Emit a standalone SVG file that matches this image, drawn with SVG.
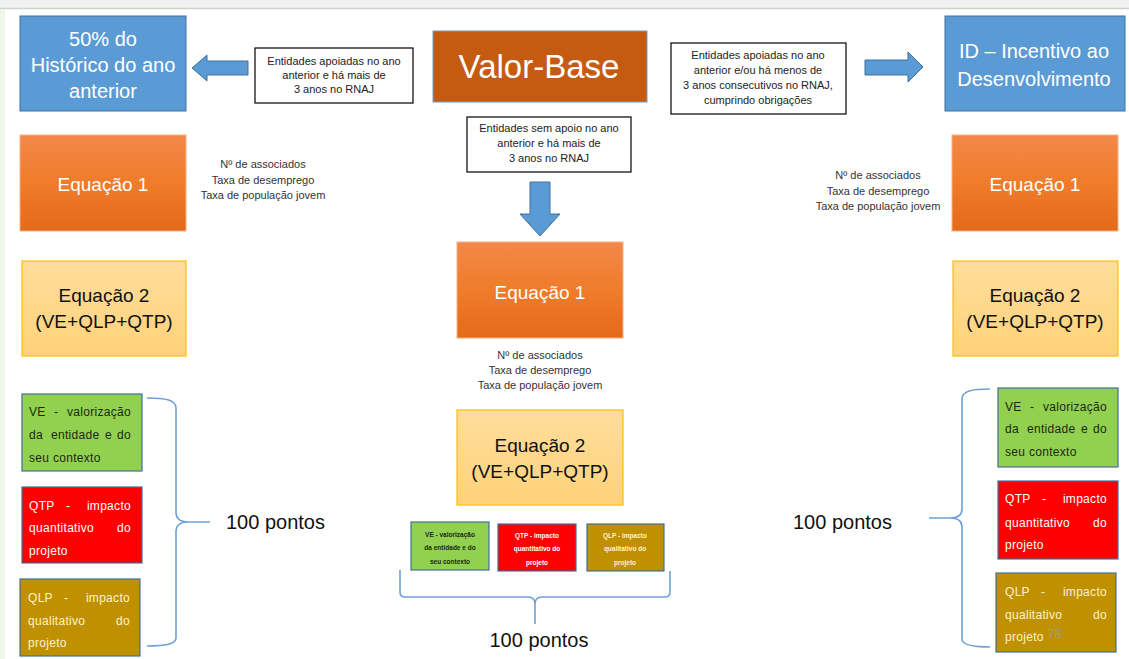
<svg xmlns="http://www.w3.org/2000/svg" width="1129" height="659" viewBox="0 0 1129 659">
<defs>
<linearGradient id="gOr" x1="0" y1="0" x2="0" y2="1"><stop offset="0" stop-color="#F2884A"/><stop offset="0.5" stop-color="#F07C2A"/><stop offset="1" stop-color="#E36A1A"/></linearGradient>
<linearGradient id="gYe" x1="0" y1="0" x2="0" y2="1"><stop offset="0" stop-color="#FFDD9C"/><stop offset="1" stop-color="#FFD27A"/></linearGradient>
<style>
text{font-family:"Liberation Sans",Arial,sans-serif;}
.blue{fill:#5B9BD5;stroke:#41719C;stroke-width:1;}
.eq1{fill:url(#gOr);stroke:#F4B183;stroke-width:1;}
.eq2{fill:url(#gYe);stroke:#FFC000;stroke-width:1.2;}
.tb{fill:#fff;stroke:#000;stroke-width:1.2;}
.ve{fill:#92D050;stroke:#41719C;stroke-width:1.2;}
.qtp{fill:#FF0000;stroke:#41719C;stroke-width:1.2;}
.qlp{fill:#BF9000;stroke:#41719C;stroke-width:1.2;}
.big{font-size:20px;fill:#fff;text-anchor:middle;}
.eqt{font-size:19px;fill:#fff;text-anchor:middle;}
.eqb{font-size:19px;fill:#111;text-anchor:middle;}
.sm{font-size:11px;fill:#222;text-anchor:middle;}
.met{font-size:11px;fill:#333;text-anchor:middle;}
.bx{font-size:12px;letter-spacing:0.3px;}
.dk{fill:#1a2a10;}
.wh{fill:#fff;}
.lt{fill:#FFF2CC;}
.tiny{font-size:6.5px;font-weight:bold;text-anchor:middle;}
.pts{font-size:20px;fill:#111;}
.brace{fill:none;stroke:#6FA0D8;stroke-width:1.6;}
</style>
</defs>
<rect width="1129" height="659" fill="#fff"/>
<rect x="0" y="0" width="1129" height="8" fill="#F2F2F2"/>
<line x1="0" y1="8.5" x2="1129" y2="8.5" stroke="#D0D0D0" stroke-width="1.5"/>
<rect x="0" y="9" width="5" height="650" fill="#EEF7EA"/>

<g id="connectors">
<path class="blue" d="M192,68 L207,55 L207,61 L248,61 L248,75 L207,75 L207,81 Z"/>
<path class="blue" d="M923,67 L908,52 L908,60 L865,60 L865,75 L908,75 L908,82 Z"/>
<path class="blue" d="M530,182 L550,182 L550,214 L560,214 L540,236 L520,214 L530,214 Z"/>
<path class="brace" d="M147,398 C166,398 176,400 176,408 L176,512 C176,519 180,522 188,522 C180,522 176,525 176,532 L176,638 C176,644 166,646 147,646 M188,522 L210,522"/>
<path class="brace" d="M990,389 C972,389 962,391 962,399 L962,509 C962,515 958,518 950,518 C958,518 962,521 962,527 L962,639 C962,645 972,647 990,647 M950,518 L929,518"/>
<path class="brace" d="M400,570 L400,592 Q400,597 405,597 L528,597 Q535,597 535,604 L535,624 M535,604 Q535,597 542,597 L665,597 Q670,597 670,592 L670,571"/>
</g>

<g id="hist">
<rect class="blue" x="20" y="16" width="166" height="95"/>
<text class="big" x="103" y="46">50% do</text>
<text class="big" x="103" y="72">Histórico do ano</text>
<text class="big" x="103" y="98">anterior</text>
</g>

<g id="cond-left">
<rect class="tb" x="255" y="48" width="158" height="55"/>
<text class="sm" x="334" y="65">Entidades apoiadas no ano</text>
<text class="sm" x="334" y="79">anterior e há mais de</text>
<text class="sm" x="334" y="93">3 anos no RNAJ</text>
</g>

<g id="valor-base">
<rect x="433" y="31" width="214" height="71" fill="#C55A11" stroke="#6F9FCF" stroke-width="1"/>
<text x="539" y="78" font-size="33" fill="#fff" text-anchor="middle">Valor-Base</text>
</g>

<g id="cond-right">
<rect class="tb" x="671" y="43" width="175" height="71"/>
<text class="sm" x="758" y="59">Entidades apoiadas no ano</text>
<text class="sm" x="758" y="74">anterior e/ou há menos de</text>
<text class="sm" x="758" y="89">3 anos consecutivos no RNAJ,</text>
<text class="sm" x="758" y="104">cumprindo obrigações</text>
</g>

<g id="id">
<rect class="blue" x="945" y="16" width="180" height="95"/>
<text class="big" x="1034" y="58">ID – Incentivo ao</text>
<text class="big" x="1034" y="86">Desenvolvimento</text>
</g>

<g id="cond-center">
<rect class="tb" x="467" y="117" width="164" height="55"/>
<text class="sm" x="549" y="132">Entidades sem apoio no ano</text>
<text class="sm" x="549" y="147">anterior e há mais de</text>
<text class="sm" x="549" y="162">3 anos no RNAJ</text>
</g>

<g id="eq1-left">
<rect class="eq1" x="20" y="135" width="166" height="96"/>
<text class="eqt" x="103" y="191">Equação 1</text>
</g>
<g id="met-left">
<text class="met" x="263" y="168">Nº de associados</text>
<text class="met" x="263" y="184">Taxa de desemprego</text>
<text class="met" x="263" y="199">Taxa de população jovem</text>
</g>
<g id="eq2-left">
<rect class="eq2" x="22" y="261" width="164" height="95"/>
<text class="eqb" x="104" y="302">Equação 2</text>
<text class="eqb" x="104" y="328">(VE+QLP+QTP)</text>
</g>

<g id="eq1-right">
<rect class="eq1" x="952" y="135" width="166" height="96"/>
<text class="eqt" x="1035" y="191">Equação 1</text>
</g>
<g id="met-right">
<text class="met" x="878" y="179">Nº de associados</text>
<text class="met" x="878" y="195">Taxa de desemprego</text>
<text class="met" x="878" y="210">Taxa de população jovem</text>
</g>
<g id="eq2-right">
<rect class="eq2" x="953" y="261" width="165" height="95"/>
<text class="eqb" x="1035" y="302">Equação 2</text>
<text class="eqb" x="1035" y="328">(VE+QLP+QTP)</text>
</g>

<g id="eq1-center">
<rect class="eq1" x="457" y="242" width="166" height="96"/>
<text class="eqt" x="540" y="299">Equação 1</text>
</g>
<g id="met-center">
<text class="met" x="540" y="359">Nº de associados</text>
<text class="met" x="540" y="374">Taxa de desemprego</text>
<text class="met" x="540" y="389">Taxa de população jovem</text>
</g>
<g id="eq2-center">
<rect class="eq2" x="457" y="410" width="166" height="95"/>
<text class="eqb" x="540" y="452">Equação 2</text>
<text class="eqb" x="540" y="478">(VE+QLP+QTP)</text>
</g>

<g id="ve-left">
<rect class="ve" x="22" y="394" width="120" height="77"/>
<g class="bx dk">
<text x="29" y="416">VE</text><text x="54" y="416">-</text><text x="131" y="416" text-anchor="end">valorização</text>
<text x="29" y="439">da</text><text x="51" y="439">entidade</text><text x="105" y="439">e</text><text x="131" y="439" text-anchor="end">do</text>
<text x="29" y="462">seu contexto</text>
</g>
</g>
<g id="qtp-left">
<rect class="qtp" x="22" y="487" width="120" height="76"/>
<g class="bx wh">
<text x="29" y="510">QTP</text><text x="66" y="510">-</text><text x="131" y="510" text-anchor="end">impacto</text>
<text x="29" y="532">quantitativo</text><text x="131" y="532" text-anchor="end">do</text>
<text x="29" y="555">projeto</text>
</g>
</g>
<g id="qlp-left">
<rect class="qlp" x="20" y="579" width="120" height="77"/>
<g class="bx lt">
<text x="28" y="602">QLP</text><text x="64" y="602">-</text><text x="130" y="602" text-anchor="end">impacto</text>
<text x="28" y="625">qualitativo</text><text x="130" y="625" text-anchor="end">do</text>
<text x="28" y="647">projeto</text>
</g>
</g>
<text class="pts" x="226" y="529">100 pontos</text>

<g id="ve-right">
<rect class="ve" x="998" y="388" width="120" height="79"/>
<g class="bx dk">
<text x="1005" y="411">VE</text><text x="1030" y="411">-</text><text x="1107" y="411" text-anchor="end">valorização</text>
<text x="1005" y="433">da</text><text x="1027" y="433">entidade</text><text x="1081" y="433">e</text><text x="1107" y="433" text-anchor="end">do</text>
<text x="1005" y="456">seu contexto</text>
</g>
</g>
<g id="qtp-right">
<rect class="qtp" x="998" y="481" width="120" height="78"/>
<g class="bx wh">
<text x="1005" y="503">QTP</text><text x="1042" y="503">-</text><text x="1107" y="503" text-anchor="end">impacto</text>
<text x="1005" y="527">quantitativo</text><text x="1107" y="527" text-anchor="end">do</text>
<text x="1005" y="549">projeto</text>
</g>
</g>
<g id="qlp-right">
<rect class="qlp" x="996" y="573" width="120" height="79"/>
<g class="bx lt">
<text x="1005" y="596">QLP</text><text x="1041" y="596">-</text><text x="1107" y="596" text-anchor="end">impacto</text>
<text x="1005" y="619">qualitativo</text><text x="1107" y="619" text-anchor="end">do</text>
<text x="1005" y="641">projeto</text>
</g>
<text x="1048" y="638" font-size="12" fill="#9A9A9A">78</text>
</g>
<text class="pts" x="793" y="529">100 pontos</text>

<g id="ve-center">
<rect class="ve" x="411" y="522" width="78" height="48"/>
<g class="tiny dk">
<text x="450" y="537">VE - valorização</text>
<text x="450" y="550">da entidade e do</text>
<text x="450" y="564">seu contexto</text>
</g>
</g>
<g id="qtp-center">
<rect class="qtp" x="498" y="524" width="78" height="47"/>
<g class="tiny wh">
<text x="537" y="538">QTP - impacto</text>
<text x="537" y="551">quantitativo do</text>
<text x="537" y="565">projeto</text>
</g>
</g>
<g id="qlp-center">
<rect class="qlp" x="587" y="524" width="77" height="47"/>
<g class="tiny lt">
<text x="625" y="538">QLP - impacto</text>
<text x="625" y="551">qualitativo do</text>
<text x="625" y="565">projeto</text>
</g>
</g>
<text class="pts" x="539" y="647" text-anchor="middle">100 pontos</text>
</svg>
